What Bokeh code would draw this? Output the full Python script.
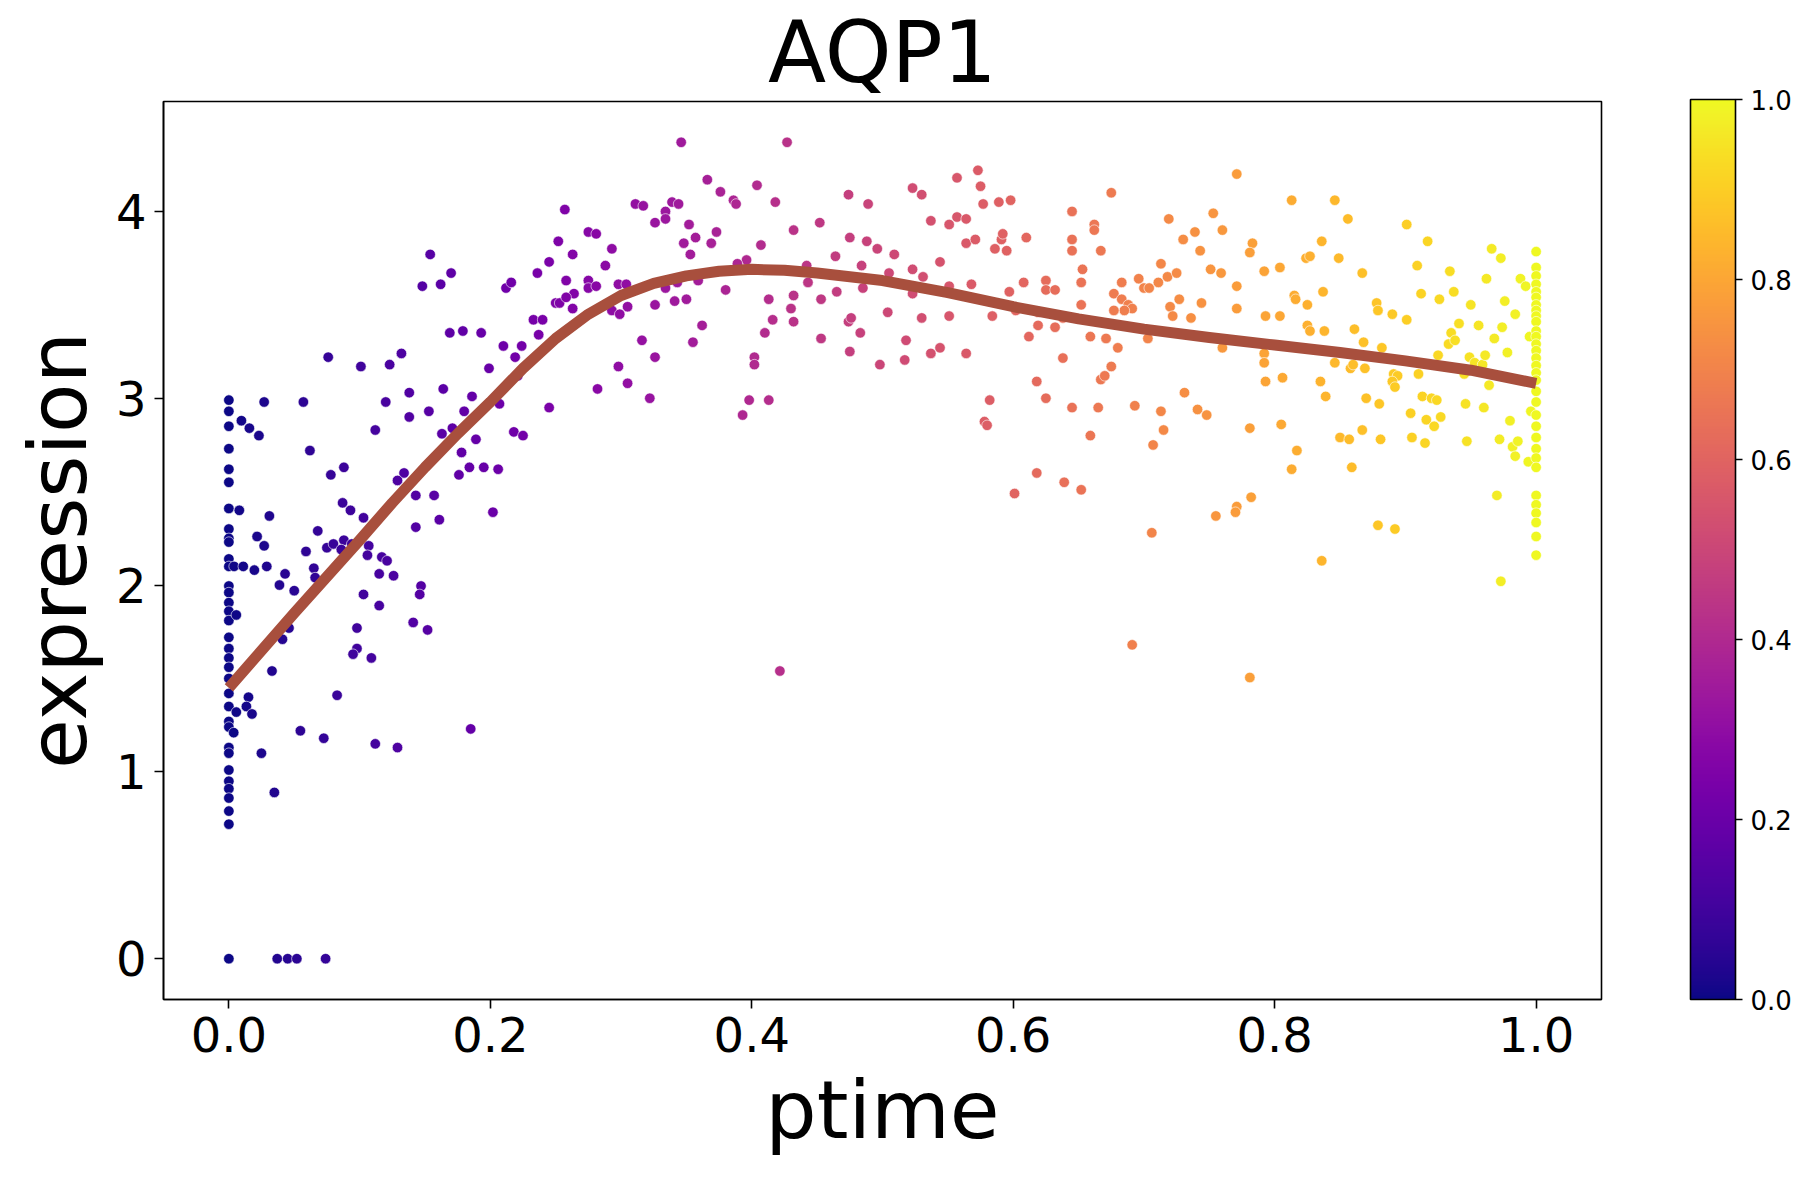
from bokeh.plotting import figure
from bokeh.models import (ColumnDataSource, ColorBar, LinearColorMapper, FixedTicker,
                          PrintfTickFormatter, Range1d)
from bokeh.palettes import Plasma256
from bokeh.embed import file_html
from bokeh.resources import INLINE

# ---------------- data ----------------
# cells at ptime == 0
ptime_start = [0.0] * 35
expr_start = [2.99, 2.93, 2.85, 2.73, 2.62, 2.55, 2.41, 2.30, 2.25, 2.23, 2.14, 2.10, 1.995,
              1.96, 1.906, 1.86, 1.81, 1.72, 1.66, 1.61, 1.56, 1.50, 1.42, 1.35, 1.27, 1.24,
              1.13, 1.10, 1.01, 0.95, 0.91, 0.86, 0.79, 0.72, 0.0]

# cells at ptime == 1
ptime_end = [1.0] * 32
expr_end = [3.785, 3.70, 3.655, 3.61, 3.57, 3.54, 3.50, 3.47, 3.44, 3.41, 3.36, 3.33, 3.29,
            3.255, 3.215, 3.175, 3.136, 3.097, 3.037, 2.98, 2.91, 2.85, 2.79, 2.73, 2.68,
            2.63, 2.48, 2.43, 2.385, 2.335, 2.26, 2.16]

# cells in between
ptime_mid = [
    0.027, 0.057, 0.076, 0.101, 0.123, 0.132, 0.138, 0.120, 0.138, 0.153, 0.148, 0.154,
    0.0096, 0.0157, 0.023, 0.062, 0.112, 0.088, 0.078, 0.134, 0.129, 0.143, 0.008, 0.031,
    0.087, 0.093, 0.103, 0.068, 0.143, 0.0216, 0.027, 0.059, 0.075, 0.080, 0.088, 0.086,
    0.094, 0.107, 0.004, 0.011, 0.0195, 0.029, 0.065, 0.066, 0.043, 0.0387, 0.050, 0.0057,
    0.046, 0.041, 0.033, 0.015, 0.0134, 0.0057, 0.0177, 0.0037, 0.0547, 0.0726, 0.0828,
    0.0249, 0.0348, 0.037, 0.045, 0.052, 0.074, 0.106, 0.117, 0.121, 0.115, 0.126, 0.103,
    0.115, 0.098, 0.098, 0.095, 0.109, 0.112, 0.129, 0.147, 0.146, 0.141, 0.152,
    # 0.15 - 0.33
    0.162, 0.170, 0.169, 0.179, 0.193, 0.210, 0.224, 0.219, 0.199, 0.164, 0.186, 0.180,
    0.207, 0.221, 0.163, 0.171, 0.189, 0.178, 0.184, 0.195, 0.206, 0.176, 0.157, 0.161,
    0.202, 0.218, 0.225, 0.245, 0.212, 0.216, 0.233, 0.240, 0.237, 0.236, 0.245, 0.252,
    0.257, 0.263, 0.258, 0.264, 0.250, 0.253, 0.258, 0.263, 0.275, 0.281, 0.275, 0.275,
    0.281, 0.288, 0.293, 0.298, 0.304, 0.293, 0.299, 0.305, 0.316, 0.298, 0.305, 0.282,
    0.322, 0.326, 0.326, 0.311, 0.317, 0.326, 0.185,
    # 0.33 - 0.50
    0.346, 0.427, 0.366, 0.376, 0.386, 0.388, 0.404, 0.418, 0.339, 0.344, 0.334, 0.334,
    0.352, 0.357, 0.348, 0.373, 0.369, 0.353, 0.407, 0.432, 0.452, 0.474, 0.489, 0.475,
    0.488, 0.496, 0.464, 0.484, 0.396, 0.389, 0.442, 0.343, 0.334, 0.359, 0.443, 0.380,
    0.341, 0.350, 0.413, 0.432, 0.430, 0.453, 0.465, 0.485, 0.416, 0.432, 0.410, 0.453,
    0.362, 0.355, 0.474, 0.476, 0.483, 0.475, 0.498, 0.402, 0.402, 0.398, 0.413, 0.393,
    0.4215,
    # 0.50 - 0.67
    0.523, 0.530, 0.557, 0.573, 0.575, 0.577, 0.589, 0.598, 0.537, 0.551, 0.557, 0.564,
    0.564, 0.571, 0.586, 0.591, 0.592, 0.595, 0.610, 0.509, 0.505, 0.523, 0.531, 0.544,
    0.523, 0.551, 0.568, 0.597, 0.608, 0.625, 0.625, 0.632, 0.645, 0.662, 0.662, 0.645,
    0.645, 0.667, 0.653, 0.652, 0.652, 0.602, 0.619, 0.638, 0.504, 0.530, 0.551, 0.584,
    0.619, 0.632, 0.612, 0.659, 0.671, 0.518, 0.537, 0.544, 0.517, 0.564, 0.638, 0.618,
    0.625, 0.645, 0.665, 0.667, 0.670, 0.659, 0.582, 0.578, 0.580, 0.618, 0.639, 0.652,
    0.601,
    # 0.67 - 0.84
    0.675, 0.771, 0.813, 0.719, 0.753, 0.739, 0.730, 0.760, 0.743, 0.783, 0.781, 0.836,
    0.824, 0.827, 0.713, 0.696, 0.683, 0.718, 0.725, 0.700, 0.704, 0.711, 0.751, 0.759,
    0.792, 0.804, 0.771, 0.677, 0.683, 0.688, 0.691, 0.685, 0.677, 0.727, 0.720, 0.722,
    0.744, 0.736, 0.771, 0.793, 0.804, 0.815, 0.816, 0.825, 0.837, 0.825, 0.827, 0.838,
    0.680, 0.703, 0.760, 0.792, 0.792, 0.675, 0.793, 0.806, 0.835, 0.839, 0.731, 0.693,
    0.713, 0.741, 0.748, 0.715, 0.707, 0.781, 0.805, 0.817, 0.813, 0.782, 0.771, 0.770,
    0.755, 0.706, 0.836, 0.691, 0.781,
    # 0.84 - 1.0
    0.846, 0.856, 0.901, 0.917, 0.849, 0.867, 0.909, 0.934, 0.966, 0.973, 0.962, 0.988,
    0.992, 0.878, 0.879, 0.890, 0.901, 0.912, 0.926, 0.937, 0.950, 0.976, 0.984, 0.941,
    0.956, 0.974, 0.861, 0.868, 0.935, 0.933, 0.938, 0.968, 0.978, 0.882, 0.925, 0.949,
    0.953, 0.959, 0.961, 0.846, 0.858, 0.869, 0.860, 0.891, 0.894, 0.890, 0.892, 0.910,
    0.945, 0.964, 0.870, 0.880, 0.913, 0.920, 0.924, 0.904, 0.916, 0.922, 0.927, 0.946,
    0.960, 0.980, 0.850, 0.857, 0.867, 0.881, 0.905, 0.915, 0.947, 0.972, 0.982, 0.986,
    0.984, 0.994, 0.859, 0.970, 0.879, 0.892, 0.973, 0.995, 0.996,
]
expr_mid = [
    2.98, 2.98, 3.22, 3.17, 3.18, 3.24, 3.03, 2.98, 2.90, 2.93, 3.60, 3.77,
    2.88, 2.84, 2.80, 2.72, 2.83, 2.63, 2.59, 2.60, 2.56, 2.48, 2.40, 2.37,
    2.44, 2.40, 2.36, 2.29, 2.31, 2.26, 2.21, 2.18, 2.20, 2.22, 2.24, 2.19,
    2.22, 2.21, 2.10, 2.10, 2.08, 2.10, 2.09, 2.04, 2.06, 2.00, 1.97, 1.84,
    1.77, 1.71, 1.54, 1.40, 1.35, 1.32, 1.31, 1.21, 1.22, 1.18, 1.41,
    1.10, 0.89, 0.0, 0.0, 0.0, 0.0, 2.16, 2.15, 2.13, 2.06, 2.05, 1.95,
    1.89, 1.77, 1.66, 1.63, 1.61, 1.15, 1.13, 1.995, 1.95, 1.80, 1.76,
    # 0.15 - 0.33
    3.61, 3.67, 3.35, 3.36, 3.35, 3.28, 3.28, 3.22, 3.16, 3.05, 3.01, 2.93,
    2.97, 3.12, 2.81, 2.84, 2.78, 2.71, 2.63, 2.63, 2.62, 2.59, 2.48, 2.35,
    2.39, 2.82, 2.80, 2.95, 3.59, 3.62, 3.42, 3.42, 3.34, 3.67, 3.73, 3.84,
    4.01, 3.77, 3.63, 3.56, 3.51, 3.51, 3.54, 3.48, 3.89, 3.88, 3.63, 3.59,
    3.60, 3.71, 3.80, 3.61, 3.61, 3.47, 3.45, 3.49, 3.31, 3.17, 3.08, 3.05,
    3.00, 3.22, 3.50, 4.04, 4.03, 3.94, 1.23,
    # 0.33 - 0.50
    4.37, 4.37, 4.17, 4.105, 4.06, 4.04, 4.14, 4.05, 4.05, 4.04, 4.00, 3.96,
    3.93, 3.86, 3.83, 3.89, 3.83, 3.77, 3.82, 3.90, 3.94, 4.09, 4.04, 3.86,
    3.84, 3.80, 3.76, 3.71, 3.74, 3.72, 3.71, 3.62, 3.59, 3.63, 3.62, 3.58,
    3.52, 3.53, 3.53, 3.55, 3.48, 3.53, 3.57, 3.59, 3.42, 3.41, 3.35, 3.32,
    3.39, 3.30, 3.41, 3.43, 3.35, 3.25, 3.18, 3.22, 3.18, 2.99, 2.99, 2.91,
    1.54,
    # 0.50 - 0.67
    4.125, 4.09, 4.18, 4.22, 4.135, 4.04, 4.05, 4.06, 3.95, 3.93, 3.97, 3.96,
    3.83, 3.85, 3.80, 3.85, 3.88, 3.79, 3.86, 3.77, 3.67, 3.69, 3.65, 3.73,
    3.56, 3.60, 3.61, 3.57, 3.62, 3.63, 3.58, 3.58, 4.00, 3.93, 3.90, 3.85,
    3.79, 3.79, 3.69, 3.62, 3.50, 3.47, 3.46, 3.43, 3.46, 3.43, 3.44, 3.44,
    3.39, 3.38, 3.33, 3.33, 3.32, 3.31, 3.24, 3.27, 3.205, 3.24, 3.215, 3.09,
    3.00, 2.95, 2.95, 3.10, 3.12, 2.80, 2.99, 2.875, 2.855, 2.60, 2.55, 2.51,
    2.49,
    # 0.67 - 0.84
    4.10, 4.20, 4.06, 3.96, 3.99, 3.89, 3.85, 3.90, 3.79, 3.83, 3.78, 3.84,
    3.75, 3.76, 3.72, 3.64, 3.62, 3.65, 3.67, 3.59, 3.59, 3.62, 3.69, 3.67,
    3.68, 3.70, 3.60, 3.56, 3.53, 3.50, 3.48, 3.47, 3.47, 3.53, 3.49, 3.44,
    3.51, 3.43, 3.48, 3.44, 3.44, 3.55, 3.53, 3.50, 3.57, 3.39, 3.36, 3.36,
    3.27, 3.32, 3.27, 3.24, 3.19, 3.17, 3.09, 3.11, 3.09, 3.01, 3.03, 2.96,
    2.93, 2.94, 2.91, 2.83, 2.75, 2.84, 2.86, 2.72, 2.62, 2.47, 2.42, 2.39,
    2.37, 2.28, 2.13, 1.68, 1.505,
    # 0.84 - 1.0
    4.06, 3.96, 3.93, 3.84, 3.75, 3.67, 3.71, 3.68, 3.80, 3.75, 3.64, 3.64,
    3.60, 3.51, 3.47, 3.45, 3.42, 3.56, 3.53, 3.57, 3.50, 3.52, 3.45, 3.40,
    3.39, 3.38, 3.37, 3.30, 3.35, 3.29, 3.31, 3.32, 3.245, 3.27, 3.23, 3.22,
    3.19, 3.18, 3.23, 3.19, 3.16, 3.16, 3.18, 3.13, 3.12, 3.09, 3.06, 3.13,
    3.13, 3.07, 3.00, 2.97, 3.01, 3.00, 2.99, 2.92, 2.885, 2.85, 2.90, 2.97,
    2.95, 2.88, 2.79, 2.78, 2.83, 2.78, 2.79, 2.76, 2.77, 2.78, 2.74, 2.77,
    2.69, 2.66, 2.63, 2.48, 2.32, 2.30, 2.02, 3.33, 2.93,
]

# fitted trend
trend_x = [0.0, 0.05, 0.1, 0.125, 0.15, 0.175, 0.2, 0.225, 0.25, 0.275, 0.3, 0.325, 0.35,
           0.375, 0.4, 0.425, 0.45, 0.5, 0.55, 0.6, 0.65, 0.7, 0.75, 0.8, 0.85, 0.9, 0.95,
           1.0]
trend_y = [1.45, 1.85, 2.24, 2.44, 2.63, 2.81, 2.98, 3.16, 3.32, 3.45, 3.55, 3.615, 3.655,
           3.68, 3.69, 3.685, 3.67, 3.63, 3.565, 3.49, 3.425, 3.37, 3.325, 3.285, 3.245,
           3.20, 3.15, 3.08]

ptime = ptime_start + ptime_mid + ptime_end
expression = expr_start + expr_mid + expr_end

# ---------------- plot ----------------
FONT = "DejaVu Sans"
mapper = LinearColorMapper(palette=Plasma256, low=0.0, high=1.0)
src = ColumnDataSource(dict(x=ptime, y=expression))

p = figure(width=1819, height=1179, output_backend="svg", toolbar_location=None,
           x_range=Range1d(-0.05, 1.05), y_range=Range1d(-0.2185, 4.5885),
           min_border_left=163, min_border_right=218, min_border_top=99,
           min_border_bottom=180, background_fill_color="white",
           border_fill_color="white")

p.scatter("x", "y", source=src, size=10.5, fill_color={"field": "x", "transform": mapper},
          line_color="white", line_width=0.6)
p.line(trend_x, trend_y, line_color="#a84f3d", line_width=11, line_cap="butt",
       line_join="round")

p.title.text = "AQP1"
p.title.align = "center"
p.title.text_font = FONT
p.title.text_font_size = "85px"
p.title.text_font_style = "normal"
p.title.text_color = "black"
p.title.standoff = 0

p.xaxis.axis_label = "ptime"
p.yaxis.axis_label = "expression"
p.xaxis.ticker = FixedTicker(ticks=[0.0, 0.2, 0.4, 0.6, 0.8, 1.0])
p.xaxis.formatter = PrintfTickFormatter(format="%.1f")
p.yaxis.ticker = FixedTicker(ticks=[0, 1, 2, 3, 4])

for ax in (p.xaxis[0], p.yaxis[0]):
    ax.axis_label_text_font = FONT
    ax.axis_label_text_font_size = "81px"
    ax.axis_label_text_font_style = "normal"
    ax.axis_label_text_color = "black"
    ax.major_label_text_font = FONT
    ax.major_label_text_font_size = "48px"
    ax.major_label_text_color = "black"
    ax.major_tick_out = 9
    ax.major_tick_in = 0
    ax.major_tick_line_width = 1.6
    ax.minor_tick_line_color = None
    ax.axis_line_width = 1.6
    ax.major_label_standoff = 8
    ax.axis_label_standoff = 8

p.xgrid.grid_line_color = None
p.ygrid.grid_line_color = None
p.outline_line_color = "black"
p.outline_line_width = 1.6

cb = ColorBar(color_mapper=mapper, width=45, height=900, padding=0, margin=0,
              location=(89, 0), ticker=FixedTicker(ticks=[0.0, 0.2, 0.4, 0.6, 0.8, 1.0]),
              formatter=PrintfTickFormatter(format="%.1f"),
              major_label_text_font=FONT, major_label_text_font_size="26px",
              major_label_text_color="black", major_tick_out=7, major_tick_in=0,
              major_tick_line_color="black", major_tick_line_width=1.6,
              bar_line_color="black", bar_line_width=1.6,
              border_line_color=None, background_fill_color=None, label_standoff=8)
p.add_layout(cb, "right")

open("out.html", "w").write(file_html(p, INLINE))
